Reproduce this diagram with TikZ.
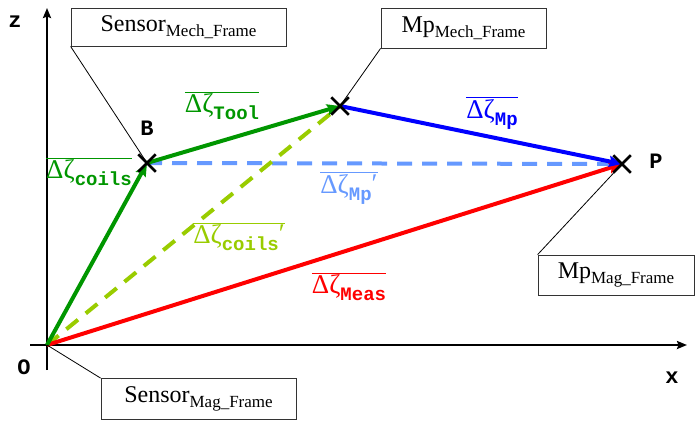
\documentclass[tikz,border=0pt]{standalone}
\usepackage{fontspec}
\setmainfont{Liberation Serif}
\newfontfamily\monob{Liberation Mono}
\usetikzlibrary{arrows.meta,shapes.misc}
\definecolor{dgreen}{RGB}{0,150,0}
\definecolor{lgreen}{RGB}{153,204,0}
\definecolor{lblue}{RGB}{102,153,255}
\newcommand\olab[2]{$\overline{\hbox{\fontsize{27}{27}\selectfont Δζ\raisebox{-7pt}{\fontsize{19}{19}\monob\bfseries #1}\raisebox{1pt}{#2}}}$}
\newcommand\boxtxt[2]{\fontsize{24}{24}\selectfont #1\raisebox{-0.45ex}{\fontsize{17}{17}\selectfont #2}}
\begin{document}
\begin{tikzpicture}[x=1pt,y=-1pt,
  vec/.style={line width=4pt,-{Stealth[length=13pt,width=11pt,inset=2pt]}},
  dsh/.style={line width=4pt,dash pattern=on 15pt off 10pt},
  axis/.style={line width=2.3pt,-{Stealth[length=10pt,width=8pt,inset=1.5pt]}},
  xmark/.style={cross out,draw=black,line width=2.5pt,minimum size=15pt,inner sep=0pt},
  lbox/.style={draw=black!80,line width=0.8pt,fill=white,inner sep=0pt},
  leader/.style={line width=0.8pt},
  lab/.style={inner sep=0pt},
  pt/.style={font=\fontsize{22}{22}\monob\bfseries,inner sep=0pt}]
\useasboundingbox (0,0) rectangle (695,421);
% points
\coordinate (O) at (47,345);
\coordinate (B) at (147,163);
\coordinate (M) at (340,106);
\coordinate (P) at (622,164);
\coordinate (xs) at (30,345);
\coordinate (xe) at (687,345);
\coordinate (zs) at (47,370);
\coordinate (ze) at (47,8);
% axes
\draw[axis] (xs) -- (xe);
\draw[axis] (zs) -- (ze);
\node[pt] (zl) at (15,22) {z};
\node[pt] (xl) at (672,378) {x};
\node[pt] (ol) at (24,367) {O};
\node[pt] (bl) at (147,128) {B};
\node[pt] (pl) at (656,161) {P};
% dashed vectors
\draw[dsh,lblue] (B) -- (P);
\draw[dsh,lgreen] (O) -- (M);
% solid vectors
\draw[vec,red] (O) -- (P);
\draw[vec,dgreen] (O) -- (B);
\draw[vec,dgreen] (B) -- (M);
\draw[vec,blue] (M) -- (P);
% crosses
\node[xmark] (xb) at (B) {};
\node[xmark] (xm) at (M) {};
\node[xmark] (xp) at (P) {};
% vector labels
\node[lab,text=dgreen] (lcoils) at (89,172) {\olab{coils}{}};
\node[lab,text=dgreen] (ltool) at (222,106) {\olab{Tool}{}};
\node[lab,text=blue] (lmp) at (492,113) {\olab{Mp}{}};
\node[lab,text=lblue] (lmpp) at (349,188) {\olab{Mp}{′}};
\node[lab,text=lgreen] (lcoilsp) at (239,237) {\olab{coils}{′}};
\node[lab,text=red] (lmeas) at (349,287) {\olab{Meas}{}};
% boxes
\node[lbox,minimum width=215pt,minimum height=38pt] (smf) at (178.5,27) {\boxtxt{Sensor}{Mech\_Frame}};
\node[lbox,minimum width=165pt,minimum height=40pt] (mmf) at (463.5,28) {\boxtxt{Mp}{Mech\_Frame}};
\node[lbox,minimum width=156pt,minimum height=40pt] (mgf) at (616,275) {\boxtxt{Mp}{Mag\_Frame}};
\node[lbox,minimum width=195pt,minimum height=41pt] (sgf) at (198.5,399) {\boxtxt{Sensor}{Mag\_Frame}};
% leaders
\draw[leader] (smf.south west) -- (B);
\draw[leader] (mmf.south west) -- (M);
\draw[leader] (mgf.north west) -- (P);
\draw[leader] (sgf.north west) -- (O);
\end{tikzpicture}
\end{document}
